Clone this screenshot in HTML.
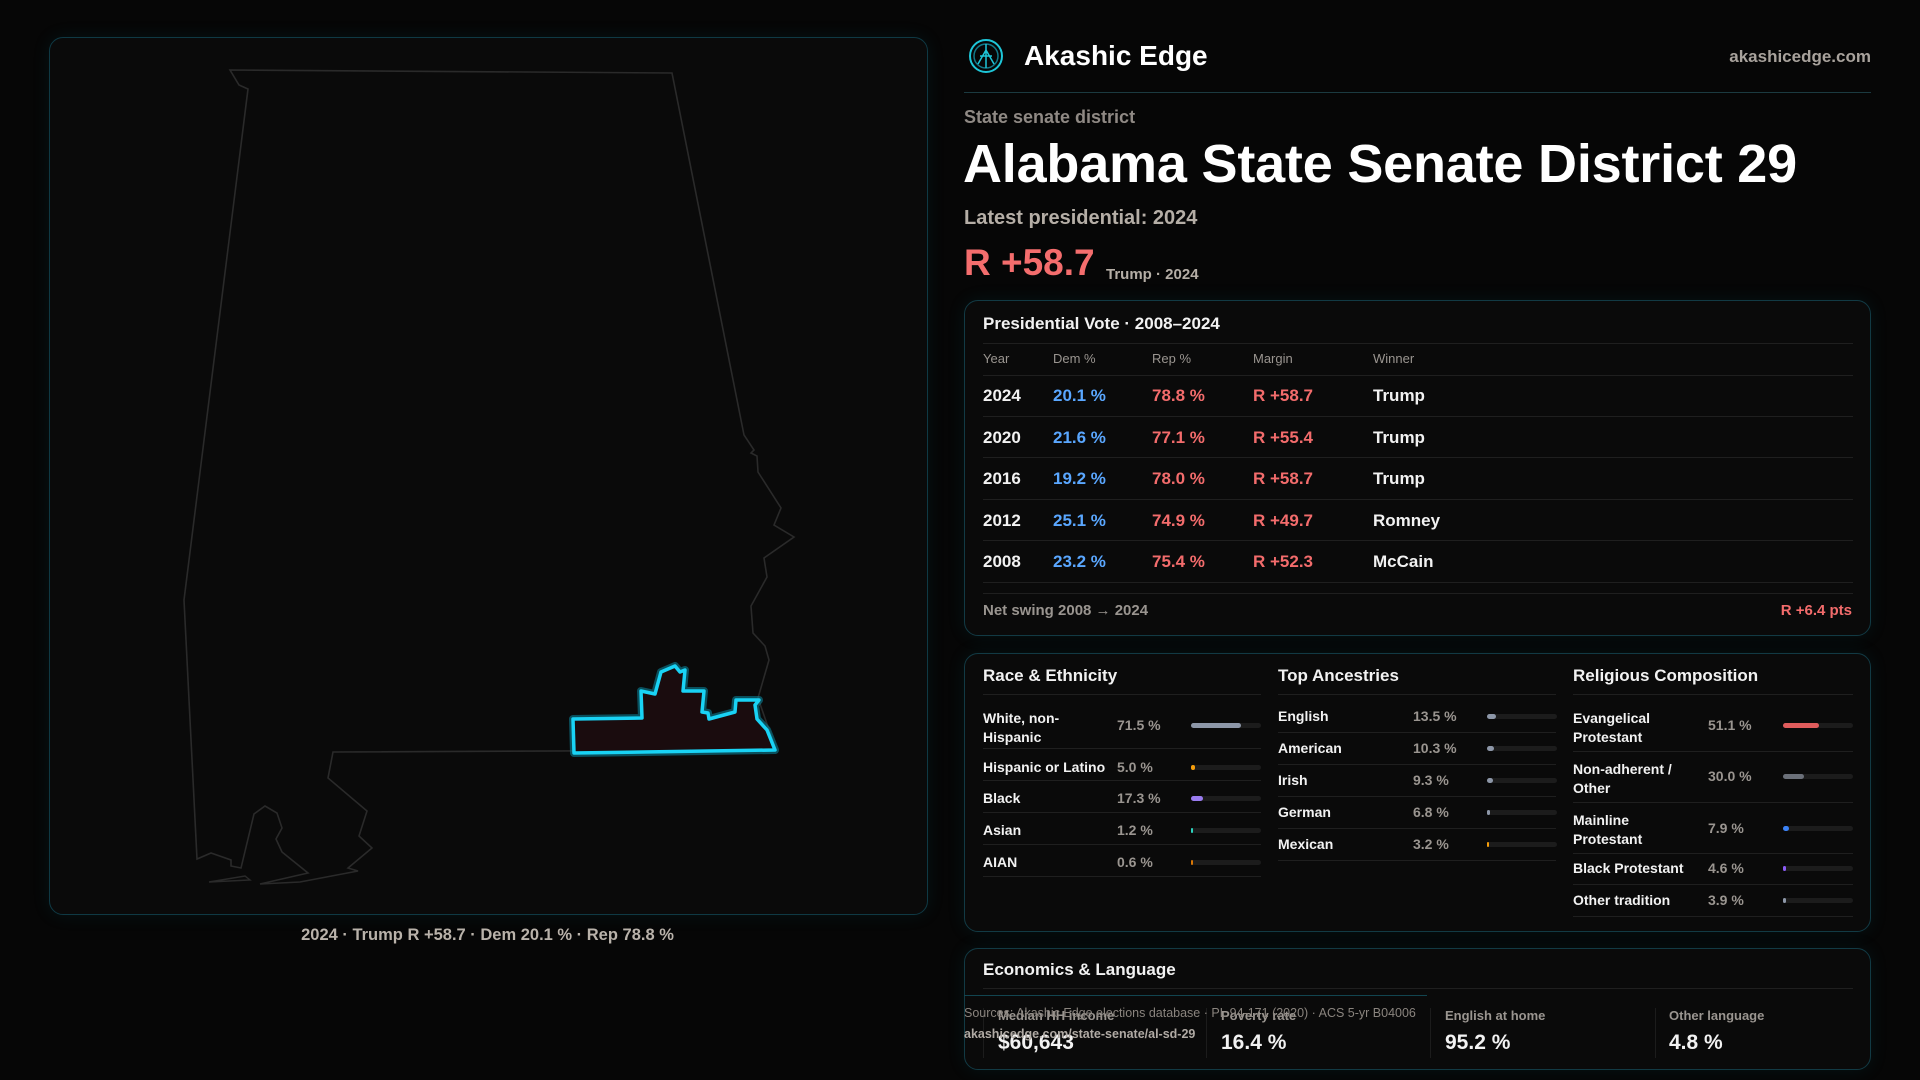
<!DOCTYPE html>
<html><head><meta charset="utf-8"><style>
*{margin:0;padding:0;box-sizing:border-box}
body{width:1920px;height:1080px;background:#060606;font-family:"Liberation Sans",sans-serif;color:#f2f2f2;position:relative;overflow:hidden}
.a{position:absolute;white-space:nowrap;line-height:1}
.card{position:absolute;border:1px solid #123a44;border-radius:14px;background:#0a0a0a;box-shadow:0 0 18px rgba(20,120,140,0.12)}
.g{color:#9a9590}
.blue{color:#5aa7ff}.red{color:#f36c6c}
.ln{position:absolute;height:1px;background:#1f1f1f}
.bar{position:absolute;height:5px;background:#1c1c1c;border-radius:3px}
.bar i{display:block;height:5px;border-radius:3px}
</style></head><body>

<div class="card" style="left:49px;top:37px;width:879px;height:878px;border-color:#0f3944"></div>
<svg style="position:absolute;left:0;top:0" width="960" height="960">
<polygon fill="none" stroke="#2a2a2a" stroke-width="1.6" points="230,70 672,73 744,435 754,450 751,453 757,456 758,472 781,508 774,525 794,537 764,558 767,577 751,606 753,633 765,646 769,660 758,698 776,750 333,752 328,778 367,811 359,836 372,848 348,868 358,871 300,882 260,884 308,873 282,852 276,839 282,828 277,813 265,806 254,814 241,868 231,866 231,860 211,853 197,859 184,600 248,89 239,85"/>
<path d="M209,882 L245,876 L250,880 Z" fill="none" stroke="#2a2a2a" stroke-width="1.4"/>
<polygon fill="#1a0c0e" stroke="#0b7f95" stroke-width="8" stroke-linejoin="round" opacity="0.6" points="573,719 642,718 641,691 655,694 661,672 675,666 680,672 685,670 683,691 704,691 702,712 708,713 709,719 735,712 736,700 759,700 755,705 757,719 767,730 775,750 574,753"/>
<polygon fill="#1a0c0e" stroke="#19d3f5" stroke-width="3.5" stroke-linejoin="round" points="573,719 642,718 641,691 655,694 661,672 675,666 680,672 685,670 683,691 704,691 702,712 708,713 709,719 735,712 736,700 759,700 755,705 757,719 767,730 775,750 574,753"/>
</svg>
<div class="a" style="left:0;width:975px;text-align:center;top:927px;font-size:16.5px;color:#b9b2aa;font-weight:bold">2024 · Trump R +58.7 · Dem 20.1 % · Rep 78.8 %</div>

<!-- header -->
<svg style="position:absolute;left:968px;top:38px" width="36" height="36"><circle cx="18" cy="18" r="16" fill="none" stroke="#1ec6d8" stroke-width="2"/><circle cx="18" cy="18" r="12" fill="none" stroke="#127888" stroke-width="1.5"/><path d="M18 6 L18 30 M10 26 L18 12 L26 26 M12 18 L24 18" stroke="#1ec6d8" stroke-width="1.5" fill="none"/></svg>
<div class="a" style="left:1024px;top:42px;font-size:28px;font-weight:bold;color:#fff">Akashic Edge</div>
<div class="a g" style="right:49px;top:48px;font-size:17px;font-weight:bold;color:#a8a29c">akashicedge.com</div>
<div class="ln" style="left:964px;top:92px;width:907px;background:#1b3a40"></div>
<div class="a g" style="left:964px;top:108px;font-size:18px;font-weight:bold;color:#8f8984">State senate district</div>
<div class="a" style="left:963px;top:137px;font-size:54px;font-weight:bold;letter-spacing:-0.2px;color:#fff">Alabama State Senate District 29</div>
<div class="a" style="left:964px;top:208px;font-size:20px;font-weight:bold;color:#b5aea6">Latest presidential: 2024</div>
<div class="a red" style="left:964px;top:244px;font-size:37px;font-weight:bold;color:#f46d6d">R +58.7</div>
<div class="a" style="left:1106px;top:267px;font-size:15px;font-weight:bold;color:#b5aea6">Trump · 2024</div>

<!-- pres card -->
<div class="card" style="left:964px;top:300px;width:907px;height:336px"></div>
<div class="a" style="left:983px;top:315px;font-size:17px;font-weight:bold">Presidential Vote · 2008–2024</div>
<div class="ln" style="left:983px;top:343px;width:870px"></div>
<div class="a g" style="left:983px;top:352px;font-size:13px">Year</div>
<div class="a g" style="left:1053px;top:352px;font-size:13px">Dem %</div>
<div class="a g" style="left:1152px;top:352px;font-size:13px">Rep %</div>
<div class="a g" style="left:1253px;top:352px;font-size:13px">Margin</div>
<div class="a g" style="left:1373px;top:352px;font-size:13px">Winner</div>
<div class="ln" style="left:983px;top:375px;width:870px"></div>
<div style="position:absolute;left:983px;top:375px;width:870px;font-size:17px;font-weight:bold">
<div style="position:relative;height:41.6px;border-bottom:1px solid #1f1f1f"><span class="a" style="left:0;top:12px">2024</span><span class="a blue" style="left:70px;top:12px">20.1 %</span><span class="a red" style="left:169px;top:12px">78.8 %</span><span class="a red" style="left:270px;top:12px">R +58.7</span><span class="a" style="left:390px;top:12px">Trump</span></div>
<div style="position:relative;height:41.6px;border-bottom:1px solid #1f1f1f"><span class="a" style="left:0;top:12px">2020</span><span class="a blue" style="left:70px;top:12px">21.6 %</span><span class="a red" style="left:169px;top:12px">77.1 %</span><span class="a red" style="left:270px;top:12px">R +55.4</span><span class="a" style="left:390px;top:12px">Trump</span></div>
<div style="position:relative;height:41.6px;border-bottom:1px solid #1f1f1f"><span class="a" style="left:0;top:12px">2016</span><span class="a blue" style="left:70px;top:12px">19.2 %</span><span class="a red" style="left:169px;top:12px">78.0 %</span><span class="a red" style="left:270px;top:12px">R +58.7</span><span class="a" style="left:390px;top:12px">Trump</span></div>
<div style="position:relative;height:41.6px;border-bottom:1px solid #1f1f1f"><span class="a" style="left:0;top:12px">2012</span><span class="a blue" style="left:70px;top:12px">25.1 %</span><span class="a red" style="left:169px;top:12px">74.9 %</span><span class="a red" style="left:270px;top:12px">R +49.7</span><span class="a" style="left:390px;top:12px">Romney</span></div>
<div style="position:relative;height:41.6px;border-bottom:1px solid #1f1f1f"><span class="a" style="left:0;top:12px">2008</span><span class="a blue" style="left:70px;top:12px">23.2 %</span><span class="a red" style="left:169px;top:12px">75.4 %</span><span class="a red" style="left:270px;top:12px">R +52.3</span><span class="a" style="left:390px;top:12px">McCain</span></div>
</div>
<div class="ln" style="left:983px;top:593px;width:870px"></div>
<div class="a g" style="left:983px;top:603px;font-size:15px;font-weight:bold">Net swing 2008 → 2024</div>
<div class="a red" style="right:68px;top:603px;font-size:15px;font-weight:bold">R +6.4 pts</div>

<!-- demographics card -->
<div class="card" style="left:964px;top:653px;width:907px;height:279px"></div>
<div class="a" style="left:983px;top:667px;font-size:17px;font-weight:bold">Race &amp; Ethnicity</div>
<div class="a" style="left:1278px;top:667px;font-size:17px;font-weight:bold">Top Ancestries</div>
<div class="a" style="left:1573px;top:667px;font-size:17px;font-weight:bold">Religious Composition</div>
<div class="ln" style="left:983px;top:694px;width:278px"></div>
<div class="ln" style="left:1278px;top:694px;width:278px"></div>
<div class="ln" style="left:1573px;top:694px;width:280px"></div>

<div style="font-size:14px;font-weight:bold">
<div class="a" style="left:983px;top:709px;line-height:19px">White, non-<br>Hispanic</div>
<div class="a g" style="left:1117px;top:718px">71.5 %</div>
<div class="bar" style="left:1191px;top:723px;width:70px"><i style="width:50px;background:#8d97a8"></i></div>
<div class="ln" style="left:983px;top:748px;width:278px"></div>
<div class="a" style="left:983px;top:760px">Hispanic or Latino</div>
<div class="a g" style="left:1117px;top:760px">5.0 %</div>
<div class="bar" style="left:1191px;top:765px;width:70px"><i style="width:3.5px;background:#f59e0b"></i></div>
<div class="ln" style="left:983px;top:780px;width:278px"></div>
<div class="a" style="left:983px;top:791px">Black</div>
<div class="a g" style="left:1117px;top:791px">17.3 %</div>
<div class="bar" style="left:1191px;top:796px;width:70px"><i style="width:12px;background:#9a7cf0"></i></div>
<div class="ln" style="left:983px;top:812px;width:278px"></div>
<div class="a" style="left:983px;top:823px">Asian</div>
<div class="a g" style="left:1117px;top:823px">1.2 %</div>
<div class="bar" style="left:1191px;top:828px;width:70px"><i style="width:1.5px;background:#2dd4bf"></i></div>
<div class="ln" style="left:983px;top:844px;width:278px"></div>
<div class="a" style="left:983px;top:855px">AIAN</div>
<div class="a g" style="left:1117px;top:855px">0.6 %</div>
<div class="bar" style="left:1191px;top:860px;width:70px"><i style="width:1.5px;background:#d97706"></i></div>
<div class="ln" style="left:983px;top:876px;width:278px"></div>

<div class="a" style="left:1278px;top:709px">English</div><div class="a g" style="left:1413px;top:709px">13.5 %</div>
<div class="bar" style="left:1487px;top:714px;width:70px"><i style="width:9px;background:#8d97a8"></i></div>
<div class="ln" style="left:1278px;top:732px;width:278px"></div>
<div class="a" style="left:1278px;top:741px">American</div><div class="a g" style="left:1413px;top:741px">10.3 %</div>
<div class="bar" style="left:1487px;top:746px;width:70px"><i style="width:7px;background:#8d97a8"></i></div>
<div class="ln" style="left:1278px;top:764px;width:278px"></div>
<div class="a" style="left:1278px;top:773px">Irish</div><div class="a g" style="left:1413px;top:773px">9.3 %</div>
<div class="bar" style="left:1487px;top:778px;width:70px"><i style="width:6px;background:#8d97a8"></i></div>
<div class="ln" style="left:1278px;top:796px;width:278px"></div>
<div class="a" style="left:1278px;top:805px">German</div><div class="a g" style="left:1413px;top:805px">6.8 %</div>
<div class="bar" style="left:1487px;top:810px;width:70px"><i style="width:3px;background:#8d97a8"></i></div>
<div class="ln" style="left:1278px;top:828px;width:278px"></div>
<div class="a" style="left:1278px;top:837px">Mexican</div><div class="a g" style="left:1413px;top:837px">3.2 %</div>
<div class="bar" style="left:1487px;top:842px;width:70px"><i style="width:2px;background:#f59e0b"></i></div>
<div class="ln" style="left:1278px;top:860px;width:278px"></div>

<div class="a" style="left:1573px;top:709px;line-height:19px">Evangelical<br>Protestant</div>
<div class="a g" style="left:1708px;top:718px">51.1 %</div>
<div class="bar" style="left:1783px;top:723px;width:70px"><i style="width:36px;background:#e05c5c"></i></div>
<div class="ln" style="left:1573px;top:751px;width:280px"></div>
<div class="a" style="left:1573px;top:760px;line-height:19px">Non-adherent /<br>Other</div>
<div class="a g" style="left:1708px;top:769px">30.0 %</div>
<div class="bar" style="left:1783px;top:774px;width:70px"><i style="width:21px;background:#6b7079"></i></div>
<div class="ln" style="left:1573px;top:802px;width:280px"></div>
<div class="a" style="left:1573px;top:811px;line-height:19px">Mainline<br>Protestant</div>
<div class="a g" style="left:1708px;top:821px">7.9 %</div>
<div class="bar" style="left:1783px;top:826px;width:70px"><i style="width:5.5px;background:#3b82f6"></i></div>
<div class="ln" style="left:1573px;top:853px;width:280px"></div>
<div class="a" style="left:1573px;top:861px">Black Protestant</div><div class="a g" style="left:1708px;top:861px">4.6 %</div>
<div class="bar" style="left:1783px;top:866px;width:70px"><i style="width:3px;background:#8b5cf6"></i></div>
<div class="ln" style="left:1573px;top:884px;width:280px"></div>
<div class="a" style="left:1573px;top:893px">Other tradition</div><div class="a g" style="left:1708px;top:893px">3.9 %</div>
<div class="bar" style="left:1783px;top:898px;width:70px"><i style="width:3px;background:#8d97a8"></i></div>
<div class="ln" style="left:1573px;top:916px;width:280px"></div>
</div>

<!-- econ card -->
<div class="card" style="left:964px;top:948px;width:907px;height:122px"></div>
<div class="a" style="left:983px;top:961px;font-size:17px;font-weight:bold">Economics &amp; Language</div>
<div class="ln" style="left:983px;top:988px;width:870px"></div>
<div class="ln" style="left:964px;top:995px;width:463px;background:#124550"></div>
<div style="position:absolute;left:983px;top:1008px;width:1px;height:50px;background:#1c1c1c"></div>
<div style="position:absolute;left:1206px;top:1008px;width:1px;height:50px;background:#1c1c1c"></div>
<div style="position:absolute;left:1430px;top:1008px;width:1px;height:50px;background:#1c1c1c"></div>
<div style="position:absolute;left:1655px;top:1008px;width:1px;height:50px;background:#1c1c1c"></div>
<div class="a g" style="left:998px;top:1009px;font-size:13px;font-weight:bold">Median HH income</div>
<div class="a g" style="left:1221px;top:1009px;font-size:13px;font-weight:bold">Poverty rate</div>
<div class="a g" style="left:1445px;top:1009px;font-size:13px;font-weight:bold">English at home</div>
<div class="a g" style="left:1669px;top:1009px;font-size:13px;font-weight:bold">Other language</div>
<div class="a" style="left:998px;top:1032px;font-size:21px;font-weight:bold">$60,643</div>
<div class="a" style="left:1221px;top:1032px;font-size:21px;font-weight:bold">16.4 %</div>
<div class="a" style="left:1445px;top:1032px;font-size:21px;font-weight:bold">95.2 %</div>
<div class="a" style="left:1669px;top:1032px;font-size:21px;font-weight:bold">4.8 %</div>
<div class="a" style="left:964px;top:1007px;font-size:12.5px;color:#8a847e">Sources: Akashic Edge elections database · PL 94-171 (2020) · ACS 5-yr B04006</div>
<div class="a" style="left:964px;top:1028px;font-size:12.5px;color:#b0aaa4;font-weight:bold">akashicedge.com/state-senate/al-sd-29</div>
</body></html>
